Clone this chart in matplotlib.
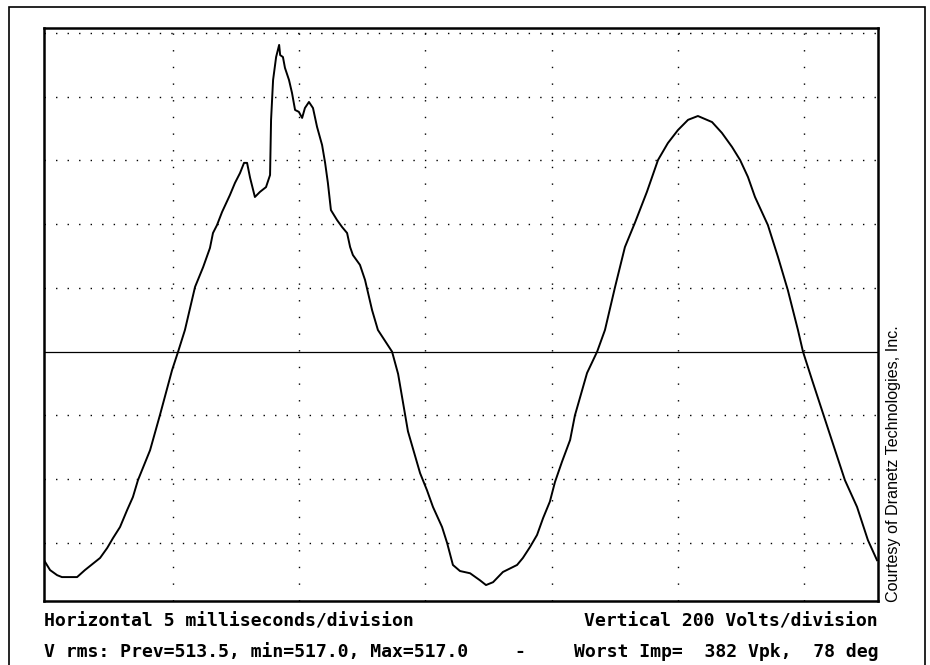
import matplotlib
matplotlib.use('Agg')
import matplotlib.pyplot as plt
from matplotlib.patches import Rectangle

# waveform (time in ms, voltage in V)
time_ms = [-0.1, 0.14, 0.42, 0.61, 1.21, 1.52, 2.12, 2.40, 2.63, 2.91,
           3.19, 3.42, 3.62, 4.10, 4.49, 4.97, 5.21, 5.48, 5.88, 6.20,
           6.47, 6.59, 6.75, 6.95, 7.26, 7.46, 7.66, 7.82, 7.94, 8.06,
           8.25, 8.45, 8.69, 8.85, 8.89, 8.97, 9.09, 9.21, 9.25, 9.36,
           9.44, 9.60, 9.72, 9.84, 9.99, 10.12, 10.23, 10.39, 10.55, 10.71,
           10.91, 11.03, 11.14, 11.26, 11.50, 11.70, 11.90, 12.02, 12.13, 12.41,
           12.61, 12.89, 13.12, 13.68, 13.92, 14.31, 14.79, 15.06, 15.30,
           15.66, 15.86, 16.09, 16.37, 16.77, 17.16, 17.40, 17.68, 18.07, 18.63,
           18.86, 19.14, 19.42, 19.66, 19.93, 20.13, 20.41, 20.73, 20.92, 21.40,
           21.80, 22.11, 22.51, 22.90, 23.30, 23.77, 24.21, 24.60, 25.00, 25.40,
           25.79, 26.35, 26.74, 27.14, 27.46, 27.77, 28.05, 28.56, 28.96, 29.35,
           29.75, 29.95, 30.31, 30.74, 31.22, 31.61, 32.09, 32.52, 32.88]
volts = [-654, -685, -701, -707, -707, -685, -647, -616, -585, -550,
         -497, -456, -403, -309, -199, -58, 0, 68, 203, 265,
         325, 372, 397, 438, 491, 529, 560, 592, 592, 545,
         485, 501, 516, 554, 727, 852, 924, 962, 930, 924,
         890, 852, 811, 758, 752, 733, 764, 783, 764, 705,
         648, 592, 529, 444, 413, 391, 372, 328, 303, 272,
         225, 130, 68, 0, -70, -250, -381, -434, -487,
         -550, -600, -669, -688, -695, -717, -732, -723, -691, -669,
         -647, -613, -575, -522, -470, -409, -345, -277, -200, -67,
         0, 68, 203, 328, 405, 501, 601, 654, 695, 727,
         739, 720, 686, 642, 601, 548, 485, 397, 297, 193,
         68, 0, -89, -193, -309, -403, -487, -591, -654]

v_grid = [-600, -400, -200, 200, 400, 600, 800, 1000]
t_grid = [5, 10, 15, 20, 25, 30]

line1_left = "Horizontal 5 milliseconds/division"
line1_right = "Vertical 200 Volts/division"
line2_left = "V rms: Prev=513.5, min=517.0, Max=517.0"
line2_right = "Worst Imp=  382 Vpk,  78 deg"
credit = "Courtesy of Dranetz Technologies, Inc."

fig = plt.figure(figsize=(9.3, 6.65), dpi=100)
fig.patches.append(Rectangle((9 / 930, -0.01), (925 - 9) / 930, 1 - 7 / 665 + 0.01,
                             transform=fig.transFigure, fill=False,
                             edgecolor='black', linewidth=1.2))

ax = fig.add_axes([44 / 930, 64 / 665, 834 / 930, 573 / 665])
ax.set_xlim(-0.1, 32.92)
ax.set_ylim(-782, 1015)

for v in v_grid:
    ax.axhline(v, color='black', linewidth=1.0, linestyle=(0, (1, 7.3)), zorder=1)
for t in t_grid:
    ax.axvline(t, color='black', linewidth=1.0, linestyle=(0, (1, 11)), zorder=1)
ax.axhline(0, color='black', linewidth=0.9, zorder=1)

ax.plot(time_ms, volts, color='black', linewidth=1.4, zorder=3)

ax.set_xticks([])
ax.set_yticks([])
for s in ax.spines.values():
    s.set_linewidth(1.8)

mono = dict(family='DejaVu Sans Mono', fontweight='bold', fontsize=13.1)
fig.text(44 / 930, 1 - 627 / 665, line1_left, ha='left', va='baseline', **mono)
fig.text(878 / 930, 1 - 627 / 665, line1_right, ha='right', va='baseline', **mono)
fig.text(44 / 930, 1 - 657 / 665, line2_left, ha='left', va='baseline', **mono)
fig.text(520 / 930, 1 - 657 / 665, "-", ha='center', va='baseline', **mono)
fig.text(878 / 930, 1 - 657 / 665, line2_right, ha='right', va='baseline', **mono)

fig.text(893 / 930, 1 - 602 / 665, credit, rotation=90, ha='center', va='bottom',
         family='Liberation Sans', fontsize=11.6)

fig.savefig('out.png', dpi=100)
